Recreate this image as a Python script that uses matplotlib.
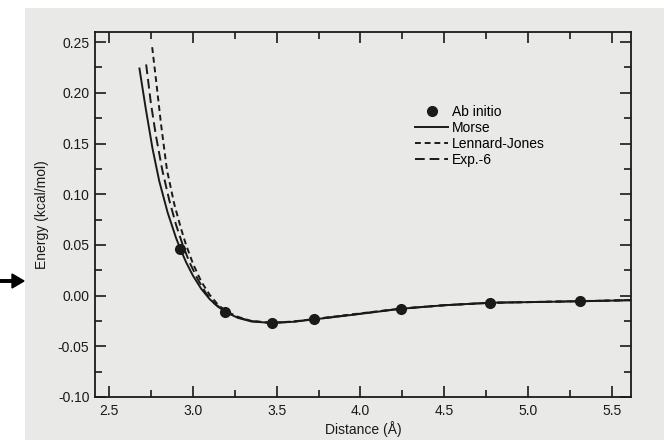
import matplotlib
matplotlib.use('Agg')
import matplotlib.pyplot as plt
from matplotlib.patches import Rectangle, FancyArrow
from matplotlib.ticker import MultipleLocator, FormatStrFormatter

plt.rcParams['font.family'] = ['Liberation Sans', 'DejaVu Sans']

# ab initio points
abX = [2.926, 3.19, 3.47, 3.72, 4.24, 4.77, 5.31]
abY = [0.046, -0.016, -0.027, -0.023, -0.013, -0.007, -0.0056]

# Morse fit (solid)
morseX = [2.682, 2.72, 2.76, 2.80, 2.85, 2.90, 2.926, 2.96, 3.00, 3.05, 3.10, 3.15, 3.20,
          3.27, 3.35, 3.47, 3.60, 3.72, 3.85, 4.00, 4.24, 4.50, 4.77, 5.05, 5.31, 5.62]
morseY = [0.224, 0.184, 0.145, 0.113, 0.082, 0.057, 0.046, 0.033, 0.020, 0.0068, -0.0033,
          -0.0109, -0.0166, -0.022, -0.0255, -0.027, -0.0258, -0.0235, -0.021, -0.018,
          -0.013, -0.0095, -0.007, -0.0063, -0.0056, -0.0045]

# Lennard-Jones fit (short dash)
ljX = [2.758, 2.78, 2.81, 2.846, 2.89, 2.93, 2.96, 3.00, 3.05, 3.10, 3.15, 3.20, 3.27,
       3.35, 3.47, 3.60, 3.72, 3.85, 4.00, 4.24, 4.50, 4.77, 5.05, 5.31, 5.62]
ljY = [0.245, 0.214, 0.170, 0.124, 0.090, 0.066, 0.050, 0.032, 0.014, 0.001, -0.009,
       -0.0155, -0.021, -0.025, -0.0268, -0.0255, -0.0232, -0.0205, -0.0175, -0.0128,
       -0.0095, -0.0072, -0.0062, -0.0054, -0.0044]

# Exp.-6 fit (long dash)
e6X = [2.722, 2.75, 2.78, 2.818, 2.86, 2.90, 2.94, 2.98, 3.03, 3.08, 3.13, 3.20, 3.27,
       3.35, 3.47, 3.60, 3.72, 3.85, 4.00, 4.24, 4.50, 4.77, 5.05, 5.31, 5.62]
e6Y = [0.228, 0.190, 0.158, 0.124, 0.094, 0.070, 0.050, 0.033, 0.016, 0.002, -0.008,
       -0.016, -0.0215, -0.0252, -0.0269, -0.0257, -0.0234, -0.0208, -0.0178, -0.0129,
       -0.0095, -0.0071, -0.0063, -0.0055, -0.0045]

fig = plt.figure(figsize=(6.64, 4.40), dpi=100, facecolor='white')

# the scanned page behind the chart
page = Rectangle((25/664, 0), 1, 1 - 8/440, transform=fig.transFigure,
                 facecolor='#e9e9e7', edgecolor='none', zorder=-10)
fig.patches.append(page)

ax = fig.add_axes([95/664, 1 - 397/440, 536/664, 365/440])
ax.set_facecolor('none')
ax.set_zorder(5)

lw = 1.4
ink = '#1a1a1a'
ax.plot(morseX, morseY, color=ink, lw=lw, label='Morse')
ax.plot(ljX, ljY, color=ink, lw=lw, dashes=(3, 2), label='Lennard-Jones')
ax.plot(e6X, e6Y, color=ink, lw=lw, dashes=(5, 2.5), label='Exp.-6')
ax.plot(abX, abY, 'o', color=ink, ms=7, label='Ab initio', zorder=5)

ax.set_xlim(2.417, 5.613)
ax.set_ylim(-0.1, 0.26)
ax.xaxis.set_major_locator(MultipleLocator(0.5))
ax.xaxis.set_minor_locator(MultipleLocator(0.25))
ax.yaxis.set_major_locator(MultipleLocator(0.05))
ax.yaxis.set_minor_locator(MultipleLocator(0.025))
ax.yaxis.set_major_formatter(FormatStrFormatter('%.2f'))
ax.xaxis.set_major_formatter(FormatStrFormatter('%.1f'))
ax.tick_params(which='both', direction='in', top=True, right=True, colors=ink,
               labelsize=10, width=1.2)
ax.tick_params(which='major', length=8)
ax.tick_params(axis='x', which='major', pad=5)
ax.tick_params(axis='y', which='major', pad=4)
ax.tick_params(which='minor', length=5)
for s in ax.spines.values():
    s.set_linewidth(1.3)
    s.set_color(ink)

ax.set_xlabel('Distance (Å)', fontsize=10, labelpad=2, color=ink)
ax.set_ylabel('Energy (kcal/mol)', fontsize=10, labelpad=6, color=ink)

h, l = ax.get_legend_handles_labels()
order = [3, 0, 1, 2]
ax.legend([h[i] for i in order], [l[i] for i in order], frameon=False, fontsize=10,
          loc='upper left', bbox_to_anchor=(415/664, 1 - 105/440),
          bbox_transform=fig.transFigure, borderpad=0, borderaxespad=0,
          handlelength=2.4, handletextpad=0.25, labelspacing=0.15)

# arrow in the margin
fig.patches.append(FancyArrow(0, 1 - 281/440, 12/664, 0,
                              width=2.5/440, head_width=14/440, head_length=12/664,
                              transform=fig.transFigure, color='black'))

fig.savefig('out.png', dpi=100)
